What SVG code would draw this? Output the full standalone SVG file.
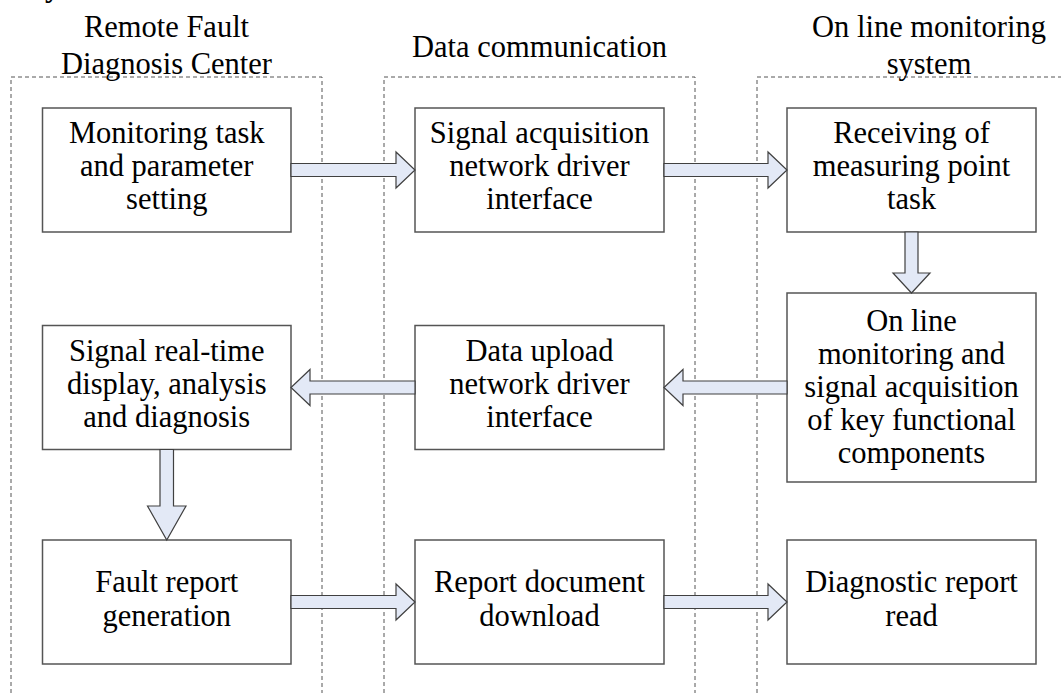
<svg xmlns="http://www.w3.org/2000/svg" width="1061" height="693" viewBox="0 0 1061 693">
<style>
.t{font-family:"Liberation Serif","Times New Roman",serif;font-size:30.5px;fill:#000;text-anchor:middle}
.box{fill:#fff;stroke:#555;stroke-width:1.5}
.lane{fill:none;stroke:#555;stroke-width:1;stroke-dasharray:4 3}
.arr{fill:#e3e9f6;stroke:#404040;stroke-width:1.2;stroke-linejoin:miter}
</style>
<rect width="1061" height="693" fill="#fff"/>
<text x="45" y="-3" style="font-family:'Liberation Serif',serif;font-size:30px;font-weight:bold">y</text>
<g id="lanes">
<path class="lane" d="M11,693 V77 H322 V693"/>
<path class="lane" d="M384,693 V77 H695 V693"/>
<path class="lane" d="M757,693 V77 H1068"/>
<text class="t" x="166.5" y="37">Remote Fault</text>
<text class="t" x="166.5" y="74">Diagnosis Center</text>
<text class="t" x="539.5" y="57">Data communication</text>
<text class="t" x="929" y="37">On line monitoring</text>
<text class="t" x="929" y="74">system</text>
</g>
<g id="n1"><rect class="box" x="42.5" y="108" width="248.5" height="124"/>
<text class="t" x="166.75" y="143">Monitoring task</text><text class="t" x="166.75" y="176">and parameter</text><text class="t" x="166.75" y="209">setting</text></g>
<g id="n2"><rect class="box" x="415" y="108" width="249" height="124"/>
<text class="t" x="539.5" y="143">Signal acquisition</text><text class="t" x="539.5" y="176">network driver</text><text class="t" x="539.5" y="209">interface</text></g>
<g id="n3"><rect class="box" x="787" y="108" width="249" height="124"/>
<text class="t" x="911.5" y="143">Receiving of</text><text class="t" x="911.5" y="176">measuring point</text><text class="t" x="911.5" y="209">task</text></g>
<g id="n4"><rect class="box" x="787" y="293" width="249" height="189"/>
<text class="t" x="911.5" y="331">On line</text><text class="t" x="911.5" y="364">monitoring and</text><text class="t" x="911.5" y="397">signal acquisition</text><text class="t" x="911.5" y="430">of key functional</text><text class="t" x="911.5" y="463">components</text></g>
<g id="n5"><rect class="box" x="415" y="325.5" width="249" height="124"/>
<text class="t" x="539.5" y="361">Data upload</text><text class="t" x="539.5" y="394">network driver</text><text class="t" x="539.5" y="427">interface</text></g>
<g id="n6"><rect class="box" x="42.5" y="325.5" width="248.5" height="124"/>
<text class="t" x="166.75" y="361">Signal real-time</text><text class="t" x="166.75" y="394">display, analysis</text><text class="t" x="166.75" y="427">and diagnosis</text></g>
<g id="n7"><rect class="box" x="42.5" y="540" width="248.5" height="124"/>
<text class="t" x="166.75" y="592">Fault report</text><text class="t" x="166.75" y="626">generation</text></g>
<g id="n8"><rect class="box" x="415" y="540" width="249" height="124"/>
<text class="t" x="539.5" y="592">Report document</text><text class="t" x="539.5" y="626">download</text></g>
<g id="n9"><rect class="box" x="787" y="540" width="249" height="124"/>
<text class="t" x="911.5" y="592">Diagnostic report</text><text class="t" x="911.5" y="626">read</text></g>
<g id="connectors">
<path class="arr" d="M291,163.5 H396 V152 L415,170 L396,188 V176.5 H291 Z"/>
<path class="arr" d="M664,163.5 H768 V152 L787,170 L768,188 V176.5 H664 Z"/>
<path class="arr" d="M905,232 V273 H893 L911.5,293 L930,273 H918 V232 Z"/>
<path class="arr" d="M787,381 H683 V369.5 L664,387.5 L683,405.5 V394 H787 Z"/>
<path class="arr" d="M415,381 H310 V369.5 L291,387.5 L310,405.5 V394 H415 Z"/>
<path class="arr" d="M160,449.5 V506 H147.5 L166.75,540 L186,506 H173.5 V449.5 Z"/>
<path class="arr" d="M291,595.5 H396 V584 L415,602 L396,620 V608.5 H291 Z"/>
<path class="arr" d="M664,595.5 H768 V584 L787,602 L768,620 V608.5 H664 Z"/>
</g>
</svg>
